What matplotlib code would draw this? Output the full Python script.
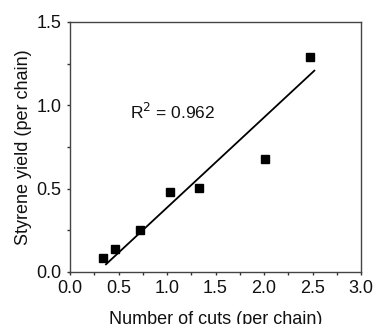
import matplotlib
matplotlib.use("Agg")
import matplotlib.pyplot as plt
from matplotlib.ticker import MultipleLocator, FormatStrFormatter

plt.rcParams['font.family'] = ['Liberation Sans', 'DejaVu Sans']

cuts = [0.343, 0.46, 0.725, 1.028, 1.333, 2.01, 2.474]
yield_ = [0.082, 0.136, 0.25, 0.482, 0.506, 0.678, 1.288]
fit_x = [0.371, 2.519]
fit_y = [0.046, 1.208]

fig = plt.figure(figsize=(3.73, 3.24), dpi=100)
ax = fig.add_axes([70/373, 1-272/324, (361-70)/373, (272-22)/324])
ax.plot(cuts, yield_, 's', color='black', markersize=5.5)
ax.plot(fit_x, fit_y, '-', color='black', linewidth=1.3)
ax.text(0.62, 0.96, r'R$^2$ = 0.962', fontsize=12.5, va='center', ha='left', color='#111111')
ax.set_xlim(0, 3.0)
ax.set_ylim(0, 1.5)
ax.xaxis.set_major_locator(MultipleLocator(0.5))
ax.xaxis.set_minor_locator(MultipleLocator(0.25))
ax.yaxis.set_major_locator(MultipleLocator(0.5))
ax.yaxis.set_minor_locator(MultipleLocator(0.25))
ax.tick_params(which='both', direction='out', labelsize=13, width=1, color='#333333',
               labelcolor='#111111', pad=3.5)
ax.tick_params(which='major', length=2.5)
ax.tick_params(which='minor', length=2)
ax.xaxis.set_major_formatter(FormatStrFormatter('%.1f'))
ax.yaxis.set_major_formatter(FormatStrFormatter('%.1f'))
for s in ax.spines.values():
    s.set_color('#444444')
    s.set_linewidth(1)
ax.set_xlabel('Number of cuts (per chain)', fontsize=13, labelpad=10, color='#111111')
ax.set_ylabel('Styrene yield (per chain)', fontsize=13, labelpad=3, color='#111111')
fig.savefig('out.png', dpi=100)
